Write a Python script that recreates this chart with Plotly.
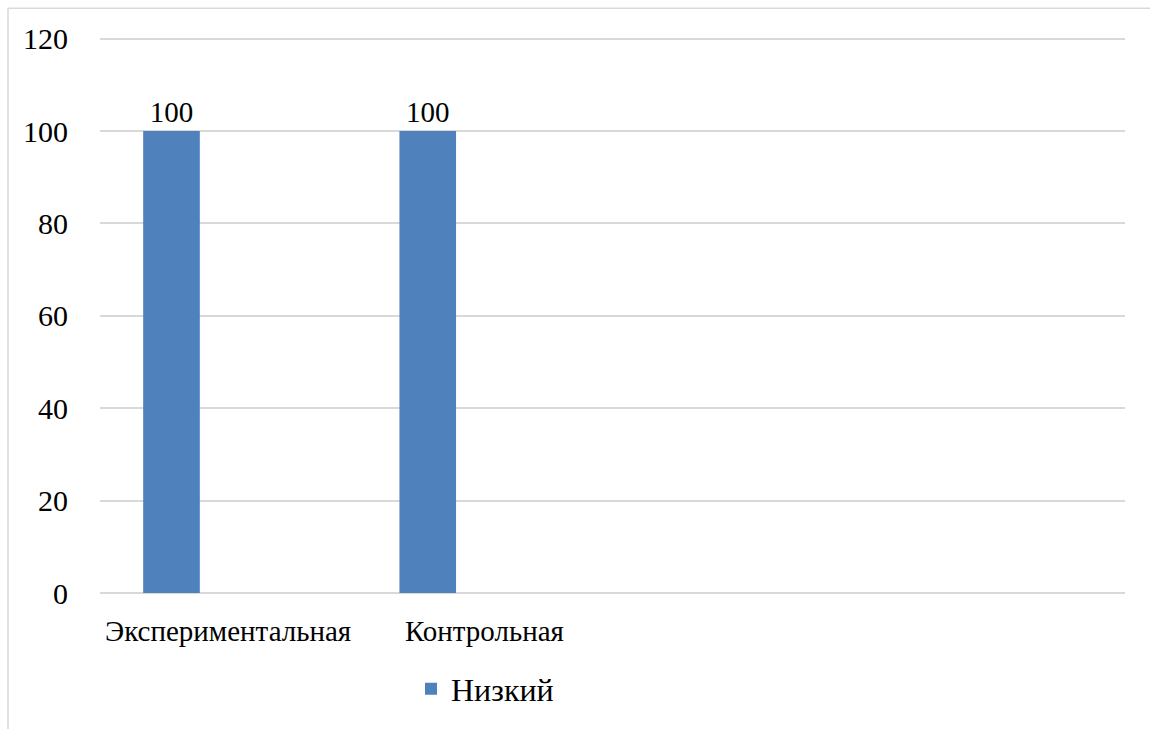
import plotly.graph_objects as go

# Groups on the category axis (the last two slots are left empty)
categories = ["Экспериментальная", "Контрольная", " ", "  "]

# Share of pupils per level, %
low = [100, 100, None, None]
medium = [None, None, None, None]
high = [None, None, None, None]

y_ticks = [0, 20, 40, 60, 80, 100, 120]

BAR_COLOR = "#4f81bd"
GRID_COLOR = "#d9d9d9"
FONT = "Liberation Serif"

fig = go.Figure()
fig.add_trace(go.Bar(
    x=categories, y=low, name="Низкий",
    marker=dict(color=BAR_COLOR, line=dict(width=0)),
    text=[f"{v}" if v is not None else "" for v in low],
    textposition="outside", textfont=dict(size=29, color="#000000", family=FONT),
    cliponaxis=False,
))
fig.add_trace(go.Bar(x=categories, y=medium, name="Средний", showlegend=False,
                     marker=dict(color="#c0504d")))
fig.add_trace(go.Bar(x=categories, y=high, name="Высокий", showlegend=False,
                     marker=dict(color="#9bbb59")))

W, H = 1150, 729
ML, MR, MT, MB = 100, 25, 34, 132
pw, ph = W - ML - MR, H - MT - MB

def px_x(p):
    return (p - ML) / pw

def px_y(p):
    return (H - MB - p) / ph

fig.update_layout(
    width=W, height=H,
    margin=dict(l=ML, r=MR, t=MT, b=MB, pad=0),
    barmode="group", bargap=0.337, bargroupgap=0,
    plot_bgcolor="white", paper_bgcolor="white",
    font=dict(family=FONT, size=29, color="#000000"),
    xaxis=dict(
        type="category", categoryorder="array", categoryarray=categories,
        showgrid=False, showline=False, zeroline=False,
        ticks="outside", ticklen=12, tickcolor="rgba(0,0,0,0)",
        tickfont=dict(size=29, family=FONT),
    ),
    yaxis=dict(
        range=[0, 121], tickvals=y_ticks,
        showgrid=True, gridcolor=GRID_COLOR, gridwidth=2,
        zeroline=True, zerolinecolor=GRID_COLOR, zerolinewidth=2,
        showline=False,
        ticks="outside", ticklen=25, tickcolor="rgba(0,0,0,0)",
        tickfont=dict(size=30, family=FONT),
    ),
    legend=dict(
        orientation="h", x=px_x(411), y=px_y(666), xanchor="left", yanchor="top",
        font=dict(size=32, family=FONT), itemwidth=30,
    ),
    showlegend=True,
    shapes=[
        dict(type="line", xref="paper", yref="paper",
             x0=px_x(8), x1=px_x(1160), y0=px_y(8), y1=px_y(8),
             line=dict(color=GRID_COLOR, width=1.5)),
        dict(type="line", xref="paper", yref="paper",
             x0=px_x(8), x1=px_x(8), y0=px_y(8), y1=px_y(740),
             line=dict(color=GRID_COLOR, width=1.5)),
    ],
)

fig.write_html("out.html")
